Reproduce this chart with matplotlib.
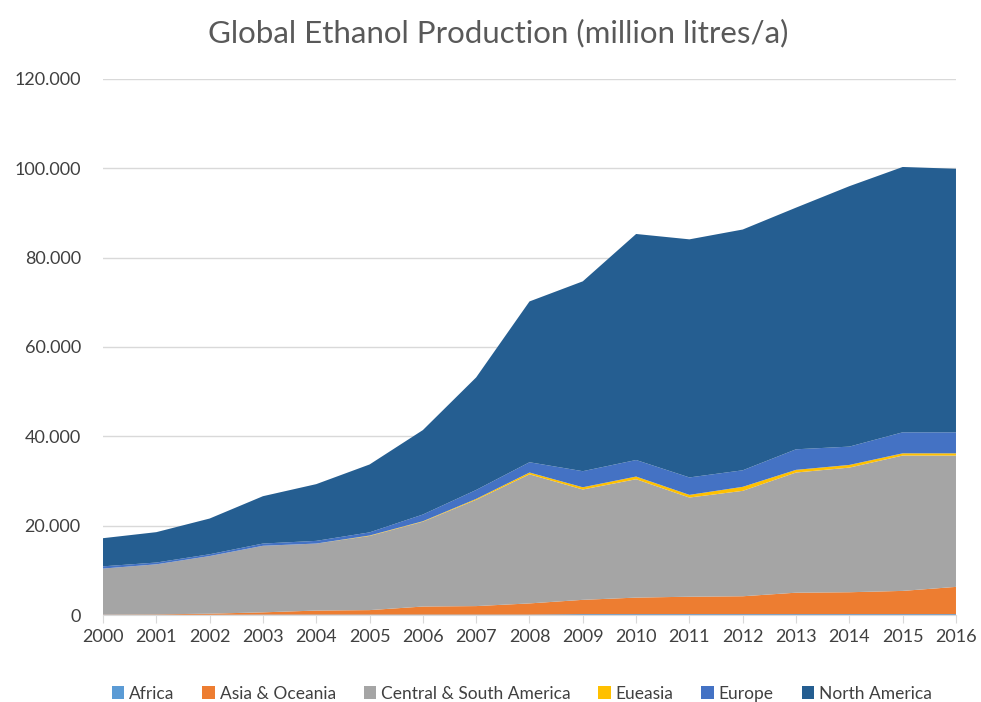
import matplotlib.pyplot as plt
from matplotlib.ticker import FuncFormatter

plt.rcParams['font.family'] = ['Lato', 'DejaVu Sans']

# Datos (miles de millones de litros -> eje en "millones", formato 20.000)
years = list(range(2000, 2017))
africa = [0.05, 0.05, 0.05, 0.1, 0.1, 0.1, 0.1, 0.1, 0.1, 0.2, 0.2, 0.2, 0.2, 0.2, 0.2, 0.2, 0.2]
asia_oceania = [0.05, 0.1, 0.25, 0.5, 0.9, 1.0, 1.8, 1.9, 2.5, 3.2, 3.7, 3.9, 4.0, 4.8, 4.9, 5.2, 6.1]
central_south_america = [10.3, 11.2, 12.9, 14.9, 15.0, 16.6, 19.0, 23.8, 28.9, 24.7, 26.5, 22.2, 23.6, 26.9, 27.9, 30.3, 29.4]
eueasia = [0.0, 0.0, 0.0, 0.0, 0.0, 0.1, 0.1, 0.2, 0.4, 0.5, 0.6, 0.6, 0.9, 0.6, 0.6, 0.5, 0.5]
europe = [0.5, 0.4, 0.4, 0.5, 0.6, 0.7, 1.5, 2.0, 2.3, 3.6, 3.7, 3.9, 3.7, 4.6, 4.1, 4.7, 4.7]
north_america = [6.3, 6.8, 8.0, 10.6, 12.7, 15.2, 18.9, 25.2, 36.0, 42.5, 50.6, 53.3, 53.9, 54.1, 58.3, 59.4, 59.0]

labels = ['Africa', 'Asia & Oceania', 'Central & South America', 'Eueasia', 'Europe', 'North America']
colors = ['#5B9BD5', '#ED7D31', '#A5A5A5', '#FFC000', '#4472C4', '#255E91']

fig = plt.figure(figsize=(9.81, 7.02), dpi=100)
ax = fig.add_axes([0.105, 0.1239, 0.8695, 0.7636])

ax.stackplot(years, africa, asia_oceania, central_south_america, eueasia, europe, north_america,
             labels=labels, colors=colors, zorder=2)

ax.set_xlim(2000, 2016)
ax.set_ylim(0, 120)
ax.set_xticks(years)
ax.set_yticks(range(0, 121, 20))
ax.yaxis.set_major_formatter(FuncFormatter(lambda v, p: '0' if v == 0 else f'{int(v)}.000'))

ax.grid(axis='y', color='#D9D9D9', linewidth=1, zorder=0)
ax.set_axisbelow(True)
for s in ['top', 'right', 'left']:
    ax.spines[s].set_visible(False)
ax.spines['bottom'].set_color('#D9D9D9')
ax.tick_params(axis='x', colors='#D9D9D9', length=6, labelcolor='#404040', labelsize=13, pad=4)
ax.tick_params(axis='y', length=0, labelcolor='#404040', labelsize=13, pad=16)

fig.suptitle('Global Ethanol Production (million litres/a)', x=0.508, y=0.973, fontsize=22.5, color='#595959')

leg = fig.legend(loc='center', bbox_to_anchor=(0.532, 0.012), ncol=6, frameon=False,
                 fontsize=12.5, handlelength=0.7, handleheight=0.7, handletextpad=0.3,
                 columnspacing=1.6)
for t in leg.get_texts():
    t.set_color('#404040')

fig.savefig('out.png', dpi=100)
